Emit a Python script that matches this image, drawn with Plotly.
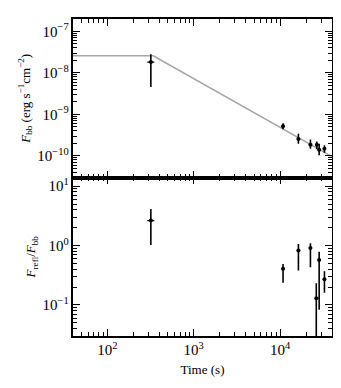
import numpy as np
import plotly.graph_objects as go
from plotly.subplots import make_subplots

# observation times (s) and horizontal extent
t_obs = [319, 10840, 16330, 22500, 26700, 28400, 32700]
t_lo = [290, 10300, 15600, 21500, 25500, 27200, 31300]
t_hi = [350, 11400, 17100, 23500, 27900, 29600, 34100]

# blackbody flux (erg s^-1 cm^-2) with error range
f_bb = [1.83e-8, 5.2e-10, 2.54e-10, 1.86e-10, 1.86e-10, 1.41e-10, 1.49e-10]
f_bb_lo = [4.6e-9, 4.4e-10, 1.96e-10, 1.49e-10, 1.44e-10, 1.03e-10, 1.18e-10]
f_bb_hi = [2.83e-8, 6.1e-10, 3.4e-10, 2.48e-10, 2.23e-10, 1.96e-10, 1.79e-10]

# reflection / blackbody ratio with error range
t_ratio = [319, 10840, 16330, 22500, 26300, 28400, 32700]
ratio = [2.63, 0.405, 0.824, 0.91, 0.13, 0.573, 0.272]
ratio_lo = [1.02, 0.236, 0.381, 0.432, 0.001, 0.083, 0.16]
ratio_hi = [4.11, 0.491, 1.06, 1.09, 0.233, 0.79, 0.37]

# broken power-law model
t_model = [40, 340, 40000]
f_model = [2.6e-8, 2.6e-8, 9.6e-11]

SERIF = "Liberation Serif, DejaVu Serif, serif"


def errs(val, lo, hi):
    return dict(type="data", symmetric=False,
                array=[h - v for h, v in zip(hi, val)],
                arrayminus=[v - l for l, v in zip(lo, val)],
                color="black", width=0)


fig = make_subplots(rows=2, cols=1, shared_xaxes=True, vertical_spacing=0)

fig.add_trace(go.Scatter(x=t_model, y=f_model, mode="lines",
                         line=dict(color="#a6a6a6", width=1.6), hoverinfo="skip"),
              row=1, col=1)
fig.add_trace(go.Scatter(x=t_obs, y=f_bb, mode="markers",
                         marker=dict(color="black", size=4),
                         error_y=dict(errs(f_bb, f_bb_lo, f_bb_hi), thickness=1.6),
                         error_x=dict(errs(t_obs, t_lo, t_hi), thickness=1.2)),
              row=1, col=1)
fig.add_trace(go.Scatter(x=t_ratio, y=ratio, mode="markers",
                         marker=dict(color="black", size=4),
                         error_y=dict(errs(ratio, ratio_lo, ratio_hi), thickness=1.6),
                         error_x=dict(errs(t_ratio, t_lo, t_hi), thickness=1.2)),
              row=2, col=1)

tickfont = dict(family=SERIF, size=12, color="black")
title_font = dict(family=SERIF, size=13, color="black")

axis_style = dict(
    type="log", showgrid=False, zeroline=False,
    showline=True, linecolor="black", linewidth=1.8, mirror="allticks",
    ticks="inside", ticklen=7, tickwidth=1.3, tickcolor="black",
    tickmode="linear", tick0=0, dtick=1,
    exponentformat="power", showexponent="all",
    minor=dict(ticks="inside", ticklen=4, tickwidth=1.2, tickcolor="black",
               dtick="D1", showgrid=False),
    tickfont=tickfont,
)

fig.update_xaxes(**axis_style, range=[np.log10(40), np.log10(40000)])
fig.update_xaxes(showticklabels=False, row=1, col=1)
fig.update_xaxes(title=dict(text="Time (s)", font=title_font, standoff=8), row=2, col=1)

fig.update_yaxes(**axis_style, row=1, col=1,
                 range=[np.log10(3e-11), np.log10(2e-7)],
                 title=dict(text="<i>F</i><sub>bb</sub> (erg s<sup>\u22121</sup>cm<sup>\u22122</sup>)",
                            font=title_font, standoff=4))
fig.update_yaxes(**axis_style, row=2, col=1,
                 range=[np.log10(0.03), np.log10(14)],
                 labelalias={"1": "10<sup>0</sup>", "10": "10<sup>1</sup>"},
                 title=dict(text="<i>F</i><sub>refl</sub>/<i>F</i><sub>bb</sub>",
                            font=title_font, standoff=4))

fig.update_layout(
    width=341, height=388,
    margin=dict(l=65, r=17, t=9, b=60),
    paper_bgcolor="white", plot_bgcolor="white",
    showlegend=False,
    font=dict(family=SERIF, color="black"),
)

fig.write_html("out.html")
